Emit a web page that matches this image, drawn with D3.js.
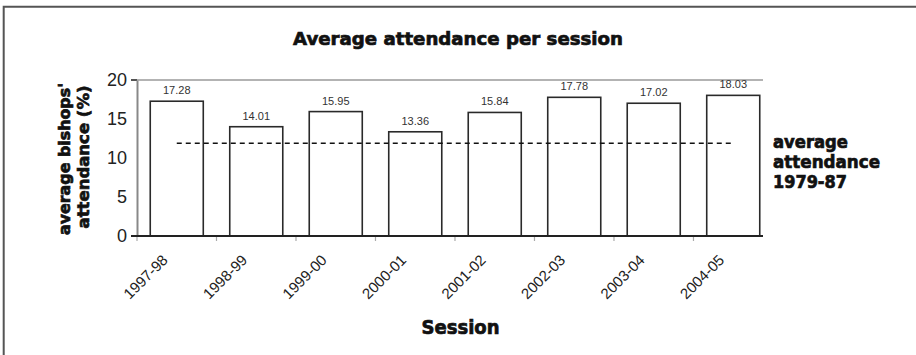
<!DOCTYPE html>
<html>
<head>
<meta charset="utf-8">
<script src="https://cdn.jsdelivr.net/npm/d3@7"></script>
<style>
  html, body { margin: 0; padding: 0; background: #fff; }
  svg { display: block; }
</style>
</head>
<body>
<svg id="chart" width="916" height="355"></svg>
<script>
// Attendance per parliamentary session
const sessions = ["1997-98", "1998-99", "1999-00", "2000-01", "2001-02", "2002-03", "2003-04", "2004-05"];
const attendance = [17.28, 14.01, 15.95, 13.36, 15.84, 17.78, 17.02, 18.03];
const baselineAverage = 11.9;   // average attendance 1979-87
const yTicks = [0, 5, 10, 15, 20];
const legendLines = ["average", "attendance", "1979-87"];
const yTitleLines = ["average bishops'", "attendance (%)"];

const svg = d3.select("#chart");
const heavy = "'DejaVu Sans', sans-serif";
const plain = "'Liberation Sans', Arial, sans-serif";

// frame (left and top edges)
svg.append("path")
  .attr("d", "M3.7,355 V6.7 H916")
  .attr("fill", "none").attr("stroke", "#555").attr("stroke-width", 2);

const x = d3.scaleBand().domain(sessions).range([137, 773])
  .paddingInner(0.333).paddingOuter(0.1667);
const y = d3.scaleLinear().domain([0, 20]).range([236, 80]);
const lineRight = 763;

// heavy display text, squeezed to a given width
function heavyText(parent, txt, fs, width) {
  return parent.append("text")
    .attr("font-family", heavy).attr("font-weight", "bold").attr("font-size", fs)
    .attr("fill", "#111").attr("stroke", "#111").attr("stroke-width", 0.7)
    .attr("textLength", width).attr("lengthAdjust", "spacingAndGlyphs")
    .text(txt);
}

// title
heavyText(svg, "Average attendance per session", 17.8, 330)
  .attr("x", 458).attr("y", 44.5).attr("text-anchor", "middle");

// top reference line at the axis maximum
svg.append("line")
  .attr("x1", 131).attr("x2", lineRight)
  .attr("y1", y(20)).attr("y2", y(20))
  .attr("stroke", "#9a9a9a").attr("stroke-width", 1.5);
svg.append("line")
  .attr("x1", 131).attr("x2", 137)
  .attr("y1", y(20)).attr("y2", y(20))
  .attr("stroke", "#333").attr("stroke-width", 1.5);

// y axis
const yAxis = d3.axisLeft(y).tickValues(yTicks).tickSize(0).tickPadding(10);
const gy = svg.append("g").attr("transform", "translate(137,0)").call(yAxis);
gy.select(".domain").attr("stroke", "#888").attr("stroke-width", 2);
gy.selectAll("text").attr("font-family", plain).attr("font-size", 18).attr("fill", "#222");

// category tick marks at band boundaries
const step = x.step();
const x0 = x.range()[0];
svg.append("g").selectAll("line")
  .data(sessions)
  .join("line")
  .attr("x1", (d, i) => x0 + i * step).attr("x2", (d, i) => x0 + i * step)
  .attr("y1", y(0)).attr("y2", y(0) + 5)
  .attr("stroke", "#aaa").attr("stroke-width", 1.2);

// bars
svg.append("g").selectAll("rect")
  .data(sessions)
  .join("rect")
  .attr("x", d => x(d))
  .attr("y", (d, i) => y(attendance[i]))
  .attr("width", x.bandwidth())
  .attr("height", (d, i) => y(0) - y(attendance[i]))
  .attr("fill", "#fff").attr("stroke", "#2a2a2a").attr("stroke-width", 1.6);

// bar value labels
svg.append("g").selectAll("text")
  .data(sessions)
  .join("text")
  .attr("x", d => x(d) + x.bandwidth() / 2)
  .attr("y", (d, i) => y(attendance[i]) - 7)
  .attr("text-anchor", "middle")
  .attr("font-family", plain).attr("font-size", 11).attr("fill", "#333")
  .text((d, i) => attendance[i].toFixed(2));

// baseline
svg.append("line")
  .attr("x1", 131).attr("x2", lineRight)
  .attr("y1", y(0)).attr("y2", y(0))
  .attr("stroke", "#222").attr("stroke-width", 1.8);

// 1979-87 average (dashed)
svg.append("line")
  .attr("x1", x(sessions[0]) + x.bandwidth() / 2)
  .attr("x2", x(sessions[sessions.length - 1]) + x.bandwidth() / 2)
  .attr("y1", y(baselineAverage)).attr("y2", y(baselineAverage))
  .attr("stroke", "#111").attr("stroke-width", 1.6).attr("stroke-dasharray", "5,4");

// category labels
svg.append("g").selectAll("text")
  .data(sessions)
  .join("text")
  .attr("transform", d => `translate(${x(d) + x.bandwidth() / 2 - 8},${y(0) + 25}) rotate(-45)`)
  .attr("text-anchor", "end")
  .attr("font-family", plain).attr("font-size", 15).attr("fill", "#222")
  .text(d => d);

// x axis title
heavyText(svg, "Session", 19, 78)
  .attr("x", 460.5).attr("y", 333.5).attr("text-anchor", "middle");

// y axis title
const ytg = svg.append("g").attr("transform", "translate(0,159) rotate(-90)");
heavyText(ytg, yTitleLines[0], 16.5, 152)
  .attr("x", 0).attr("y", 70).attr("text-anchor", "middle");
heavyText(ytg, yTitleLines[1], 16.5, 143)
  .attr("x", 2).attr("y", 89).attr("text-anchor", "middle");

// label for the dashed line
const legWidths = [75, 107, 74];
legendLines.forEach((t, i) => {
  heavyText(svg, t, 18, legWidths[i]).attr("x", 773).attr("y", 147.5 + i * 20.4);
});
</script>
</body>
</html>
